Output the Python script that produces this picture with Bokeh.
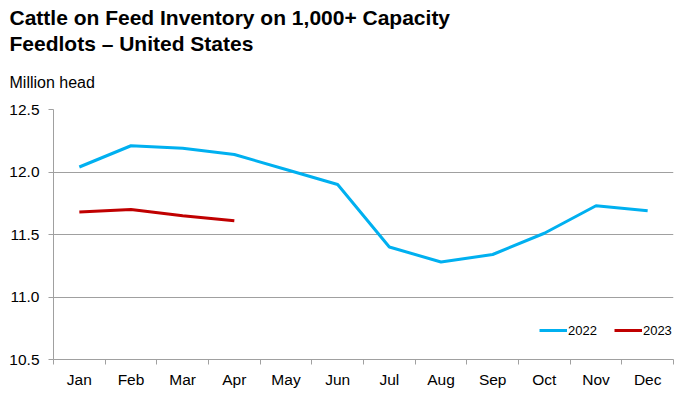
from bokeh.plotting import figure
from bokeh.models import Title, Legend, LegendItem, FixedTicker, ColumnDataSource, Range1d
from bokeh.embed import file_html
from bokeh.resources import INLINE

months = ["Jan", "Feb", "Mar", "Apr", "May", "Jun", "Jul", "Aug", "Sep", "Oct", "Nov", "Dec"]
inv_2022 = [12.04, 12.21, 12.19, 12.14, 12.02, 11.90, 11.40, 11.28, 11.34, 11.51, 11.73, 11.69]
inv_2023 = [11.68, 11.70, 11.65, 11.61]
y_ticks = [10.5, 11.0, 11.5, 12.0, 12.5]
title_text = "Cattle on Feed Inventory on 1,000+ Capacity\nFeedlots – United States"
unit_text = "Million head"

FONT = "Liberation Sans"
GRAY = "#A0A0A0"

x_pos = [i + 0.5 for i in range(len(months))]

p = figure(width=691, height=397, output_backend="svg", toolbar_location=None,
           x_range=Range1d(0, len(months)), y_range=Range1d(y_ticks[0], y_ticks[-1]),
           min_border_left=53, min_border_right=18, min_border_top=109, min_border_bottom=38)
p.outline_line_color = None
p.background_fill_color = "white"
p.border_fill_color = "white"

src22 = ColumnDataSource(dict(x=x_pos, y=inv_2022))
src23 = ColumnDataSource(dict(x=x_pos[:len(inv_2023)], y=inv_2023))
r22 = p.line("x", "y", source=src22, line_color="#00B0F0", line_width=3)
r23 = p.line("x", "y", source=src23, line_color="#C00000", line_width=3)

# x axis: labels at centers, tick marks at boundaries (minor ticks)
p.xaxis.ticker = FixedTicker(ticks=x_pos, minor_ticks=list(range(len(months) + 1)))
p.xaxis.major_label_overrides = {x: m for x, m in zip(x_pos, months)}
p.xaxis.major_tick_out = 0
p.xaxis.major_tick_in = 0
p.xaxis.minor_tick_out = 5
p.xaxis.minor_tick_in = 0
p.xaxis.minor_tick_line_color = GRAY
p.xaxis.axis_line_color = GRAY
p.xaxis.major_label_text_font = FONT
p.xaxis.major_label_text_font_size = "15.5px"
p.xaxis.major_label_text_color = "black"
p.xaxis.major_label_standoff = 6
p.xgrid.grid_line_color = None

p.yaxis.ticker = FixedTicker(ticks=y_ticks, minor_ticks=[])
p.yaxis.major_label_overrides = {t: f"{t:.1f}" for t in y_ticks}
p.yaxis.major_tick_out = 5
p.yaxis.major_tick_in = 0
p.yaxis.major_tick_line_color = GRAY
p.yaxis.axis_line_color = GRAY
p.yaxis.major_label_text_font = FONT
p.yaxis.major_label_text_font_size = "15.5px"
p.yaxis.major_label_text_color = "black"
p.yaxis.major_label_standoff = 9
p.ygrid.grid_line_color = GRAY
p.ygrid.grid_line_width = 1

# titles in the "above" panel (first added sits nearest the plot frame)
p.add_layout(Title(text=unit_text, align="left", vertical_align="top", offset=-44, standoff=34,
                   text_font=FONT, text_font_size="16px", text_font_style="normal",
                   text_color="black"), "above")
p.add_layout(Title(text=title_text, align="left", vertical_align="top", offset=-44, standoff=0,
                   text_font=FONT, text_font_size="21px", text_font_style="bold",
                   text_line_height=1.15, text_color="black"), "above")

legend = Legend(items=[LegendItem(label="2022", renderers=[r22]),
                       LegendItem(label="2023", renderers=[r23])],
                orientation="horizontal", location=(486, 21),
                glyph_width=28, glyph_height=16, label_standoff=1, spacing=17,
                padding=0, margin=0, border_line_color=None, background_fill_alpha=0,
                label_text_font=FONT, label_text_font_size="13px", label_text_color="black")
p.add_layout(legend)

open("out.html", "w").write(file_html(p, INLINE))
